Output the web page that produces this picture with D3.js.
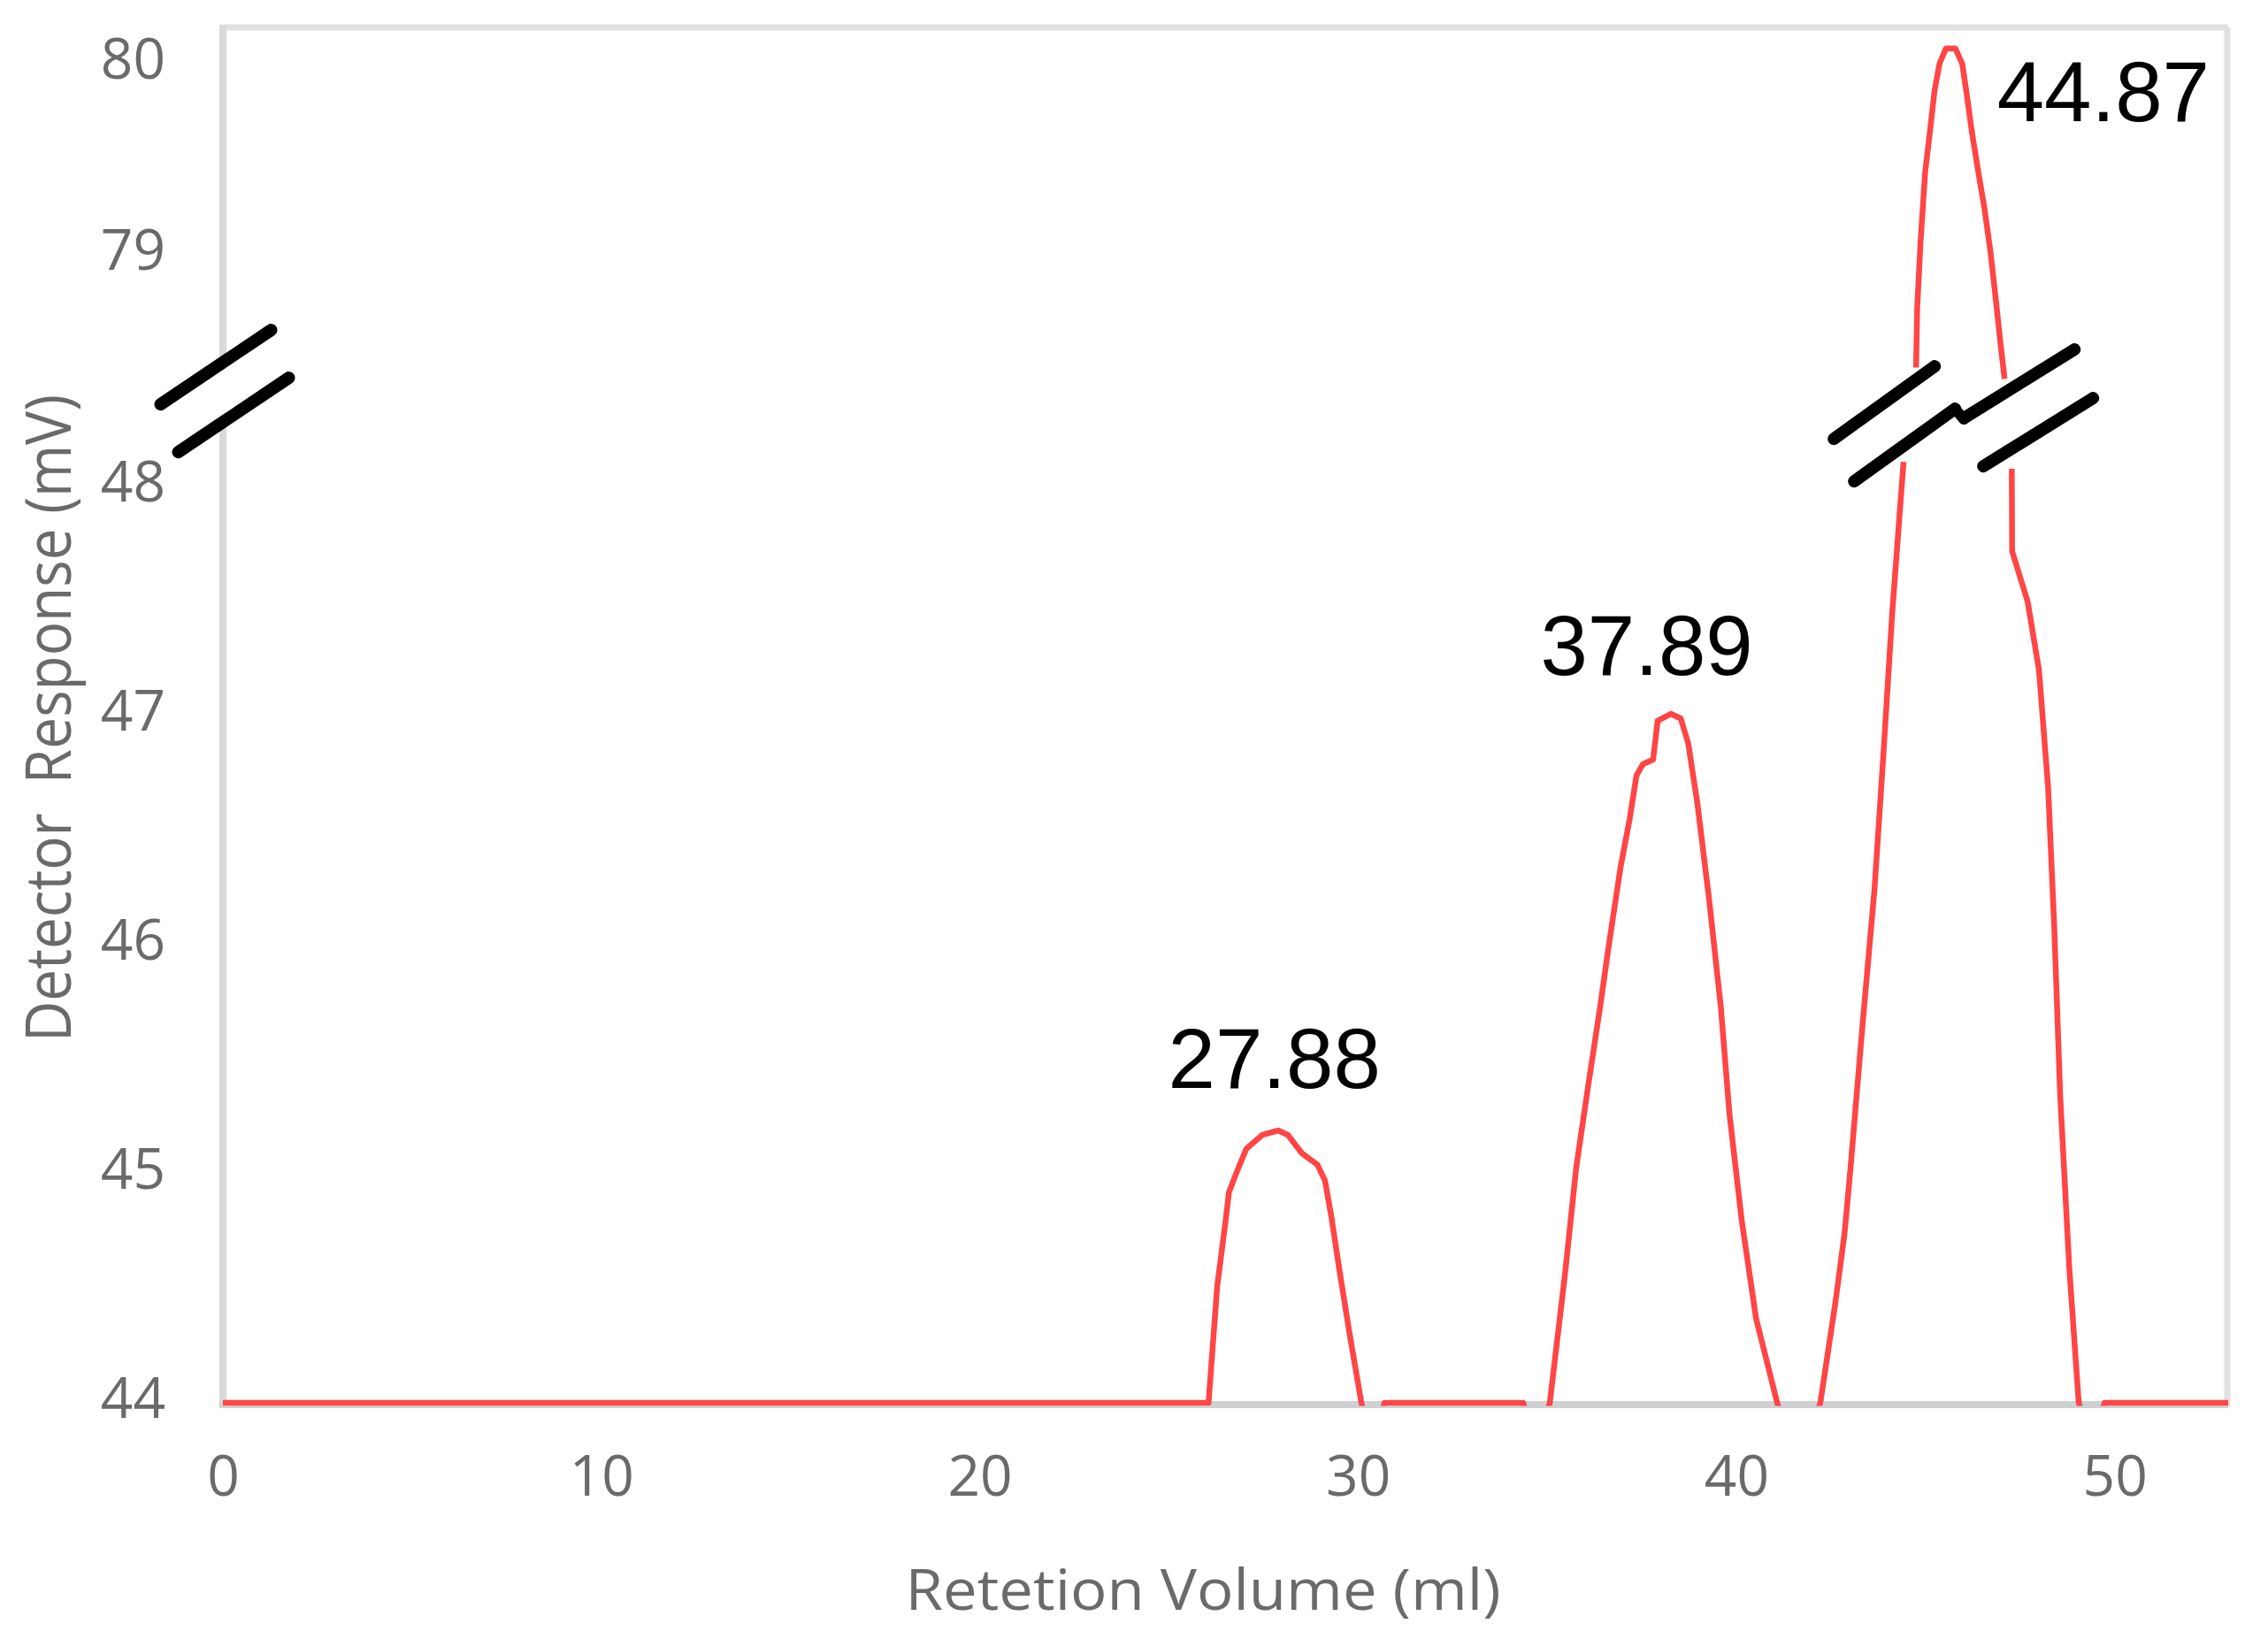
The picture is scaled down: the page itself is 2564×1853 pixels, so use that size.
<!DOCTYPE html>
<html>
<head>
<meta charset="utf-8">
<script src="https://cdn.jsdelivr.net/npm/d3@7"></script>
<style>
  html, body { margin: 0; padding: 0; background: #ffffff; }
  svg { display: block; }
</style>
</head>
<body>
<svg id="chart" width="2564" height="1853"></svg>
<script>
// ---------------- data ----------------
const xTicks = [0, 10, 20, 30, 40, 50];
const yTicksLower = [44, 45, 46, 47, 48];
const yTicksUpper = [79, 80];
const xTitle = "Retetion Volume (ml)";
const yTitle = "Detector\u00A0 Response (mV)";
const peakLabels = ["27.88", "37.89", "44.87"];

// retention volume (ml)
const volume = [
  0, 26.05, 26.28, 26.49, 26.59, 26.8, 27.05, 27.47, 27.89, 28.15, 28.52, 28.93, 29.13, 29.3, 29.51, 29.77, 30.09,
  30.4, 30.7, 34.37, 34.7,
  35.07, 35.47, 35.77, 36.08, 36.4, 36.64, 36.94, 37.18, 37.36, 37.53, 37.8, 37.92, 38.27, 38.53, 38.73, 38.97,
  39.28, 39.59, 39.82, 40.14, 40.52, 41.08, 41.6,
  42.22, 42.62, 42.86, 43.02, 43.33, 43.65, 43.89, 44.12, 44.31, 44.42,
  44.75, 44.78, 44.87, 44.99, 45.12, 45.24, 45.37, 45.54, 45.79, 45.97, 46.09, 46.22, 46.39, 46.56, 46.72, 46.85, 46.98, 47.09,
  47.28, 47.29, 47.7, 48.0, 48.24, 48.4, 48.56, 48.8, 49.05, 49.4, 49.73, 53
];
// detector response (mV)
const response = [
  44, 44, 44.51, 44.78, 44.92, 45.01, 45.11, 45.17, 45.19, 45.17, 45.09, 45.04, 44.97, 44.81, 44.58, 44.31, 44.0,
  43.8, 44, 44, 43.8,
  44.0, 44.56, 45.03, 45.38, 45.73, 46.01, 46.34, 46.55, 46.74, 46.79, 46.81, 46.98, 47.01, 46.99, 46.88, 46.62,
  46.2, 45.73, 45.26, 44.8, 44.37, 44.0, 43.7,
  44.0, 44.44, 44.74, 45.03, 45.64, 46.24, 46.84, 47.45, 47.87, 48.11,
  78.41, 78.72, 79.07, 79.43, 79.65, 79.86, 80.0, 80.08, 80.08, 80.0, 79.84, 79.65, 79.44, 79.24, 79.01, 78.78, 78.54, 78.35,
  48.08, 47.72, 47.5, 47.2, 46.69, 46.09, 45.34, 44.59, 44.0, 43.8, 44, 44
];

// ---------------- layout ----------------
const W = 2564, H = 1853;
const plot = { left: 252, right: 2519, top: 31, bottom: 1586 };
const gapLow = 48.2, gapHigh = 78.3;   // axis break

const svg = d3.select("#chart");
svg.append("rect").attr("width", W).attr("height", H).attr("fill", "#ffffff");

const x = d3.scaleLinear().domain([0, 53]).range([plot.left, plot.right]);
// broken (piecewise) y scale: 44..48.2 lower panel, 78.3..80.2 upper panel
const y = d3.scaleLinear()
  .domain([44, gapLow, gapHigh, 80.2])
  .range([plot.bottom, plot.bottom - (gapLow - 44) * 258.8, 288 + (79 - gapHigh) * 216, 288 - (80.2 - 79) * 216]);

const axisColor = "#d9d9d9";
const labelColor = "#6a6a6a";

// plot frame (top + right), light gray
svg.append("line").attr("x1", plot.left).attr("x2", plot.right).attr("y1", plot.top).attr("y2", plot.top)
  .attr("stroke", "#e0e0e0").attr("stroke-width", 7);
svg.append("line").attr("x1", plot.right - 1).attr("x2", plot.right - 1).attr("y1", plot.top).attr("y2", plot.bottom + 4)
  .attr("stroke", "#e0e0e0").attr("stroke-width", 7);
// left axis line
svg.append("line").attr("x1", plot.left).attr("x2", plot.left).attr("y1", plot.top - 3).attr("y2", plot.bottom + 4)
  .attr("stroke", axisColor).attr("stroke-width", 8);
// bottom axis line
svg.append("line").attr("x1", plot.left - 4).attr("x2", plot.right).attr("y1", plot.bottom + 2).attr("y2", plot.bottom + 2)
  .attr("stroke", "#d0d0d0").attr("stroke-width", 8);

// ---------------- axes (labels only) ----------------
const gx = svg.append("g").attr("transform", `translate(0,${plot.bottom})`)
  .call(d3.axisBottom(x).tickValues(xTicks).tickSize(0).tickPadding(60).tickFormat(d3.format("d")));
gx.select(".domain").remove();
gx.selectAll("text").attr("font-family", "'Open Sans', sans-serif").attr("font-size", 64).attr("fill", labelColor);

const gy = svg.append("g").attr("transform", `translate(${plot.left},0)`)
  .call(d3.axisLeft(y).tickValues(yTicksLower.concat(yTicksUpper)).tickSize(0).tickPadding(65).tickFormat(d3.format("d")));
gy.select(".domain").remove();
gy.selectAll("text").attr("font-family", "'Open Sans', sans-serif").attr("font-size", 64).attr("fill", labelColor)
  .attr("dy", "0.25em");

// axis titles
svg.append("text").attr("x", 1360).attr("y", 1820).attr("text-anchor", "middle")
  .attr("font-family", "'Open Sans', sans-serif").attr("font-size", 64).attr("fill", labelColor)
  .attr("textLength", 673).attr("lengthAdjust", "spacingAndGlyphs").text(xTitle);
svg.append("text").attr("transform", "translate(80,812) rotate(-90)").attr("text-anchor", "middle")
  .attr("font-family", "'Open Sans', sans-serif").attr("font-size", 72).attr("fill", labelColor)
  .attr("textLength", 732).attr("lengthAdjust", "spacingAndGlyphs").text(yTitle);

// ---------------- series ----------------
const pts = volume.map((v, i) => ({ x: v, y: response[i] }));
// split into panels at the axis break
const segments = [];
let cur = [];
pts.forEach((p, i) => {
  if (i > 0) {
    const prevLow = pts[i - 1].y <= gapLow, nowLow = p.y <= gapLow;
    if (prevLow !== nowLow) { segments.push(cur); cur = []; }
  }
  cur.push(p);
});
segments.push(cur);

svg.append("defs").append("clipPath").attr("id", "plotclip")
  .append("rect").attr("x", plot.left).attr("y", plot.top - 6)
  .attr("width", plot.right - plot.left).attr("height", plot.bottom + 3.5 - (plot.top - 6));

const line = d3.line().x(d => x(d.x)).y(d => y(d.y)).curve(d3.curveLinear);
svg.append("g").attr("clip-path", "url(#plotclip)")
  .selectAll("path").data(segments).join("path")
  .attr("d", line).attr("fill", "none").attr("stroke", "#ff4545").attr("stroke-width", 6.5)
  .attr("stroke-linejoin", "round");

// ---------------- peak labels ----------------
const labelPos = [[27.79, 45.375], [37.63, 47.18], [49.7, 79.70]];
svg.append("g").selectAll("text").data(peakLabels).join("text")
  .attr("x", (d, i) => x(labelPos[i][0])).attr("y", (d, i) => y(labelPos[i][1]))
  .attr("text-anchor", "middle").attr("font-family", "'Liberation Sans', Arial, sans-serif")
  .attr("font-size", 96).attr("fill", "#000000").text(d => d);

// ---------------- break marks ----------------
function breakPair(cx, cy, dx, dy, off) {
  const g = svg.append("g");
  const l1 = [[cx - off[0] / 2 - dx / 2, cy - off[1] / 2 - dy / 2], [cx - off[0] / 2 + dx / 2, cy - off[1] / 2 + dy / 2]];
  const l2 = [[cx + off[0] / 2 - dx / 2, cy + off[1] / 2 - dy / 2], [cx + off[0] / 2 + dx / 2, cy + off[1] / 2 + dy / 2]];
  g.append("polygon").attr("points", [l1[0], l1[1], l2[1], l2[0]].map(p => p.join(",")).join(" "))
    .attr("fill", "#ffffff");
  [l1, l2].forEach(l => g.append("line")
    .attr("x1", l[0][0]).attr("y1", l[0][1]).attr("x2", l[1][0]).attr("y2", l[1][1])
    .attr("stroke", "#000000").attr("stroke-width", 14).attr("stroke-linecap", "round"));
  return { l1, l2 };
}
const gapMidY = (y(gapLow) + y(gapHigh)) / 2;
breakPair(x(0) + 2, gapMidY - 27, 125, -84, [20, 54]);
const bL = breakPair(x(44.6) - 18, gapMidY + 10, 114, -82, [23, 48]);
const bR = breakPair(x(48.2) - 20, gapMidY - 8, 124, -77, [21, 55]);
// small hand-drawn connector between the two right pairs
svg.append("polyline")
  .attr("points", [bL.l2[1], [bL.l2[1][0] + 10, bL.l2[1][1] + 12], bR.l1[0]].map(p => p.join(",")).join(" "))
  .attr("fill", "none").attr("stroke", "#000000").attr("stroke-width", 12).attr("stroke-linejoin", "round");
</script>
</body>
</html>
